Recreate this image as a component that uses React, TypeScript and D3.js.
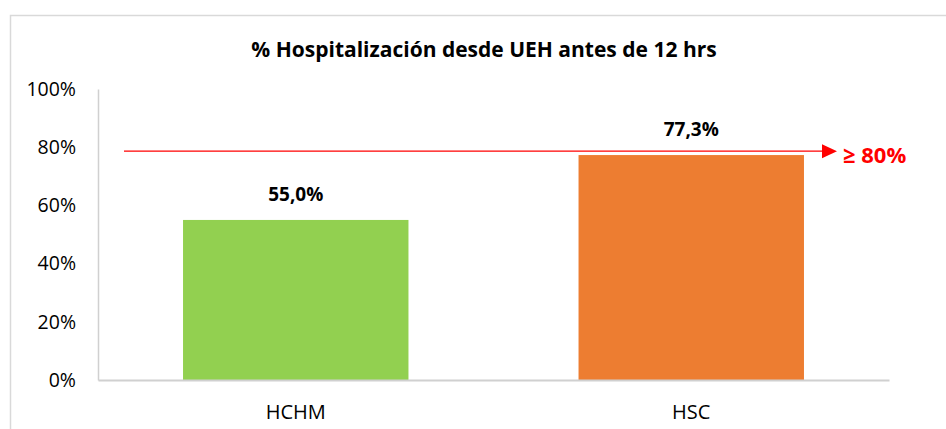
import React, { useEffect, useRef } from "react";
import * as d3 from "d3";

const categories = ["HCHM", "HSC"];
const values = [55.0, 77.3];
const colors = ["#92d050", "#ed7d31"];
const yTicks = [0, 20, 40, 60, 80, 100];
const target = 80;
const title = "% Hospitalización desde UEH antes de 12 hrs";

const App: React.FC = () => {
  const svgRef = useRef<SVGSVGElement | null>(null);

  useEffect(() => {
    const width = 946;
    const height = 429;
    const margin = { top: 89, right: 57, bottom: 49, left: 98 };
    const font = "'Open Sans', 'Noto Sans', sans-serif";

    const svg = d3.select(svgRef.current).attr("width", width).attr("height", height);
    svg.selectAll("*").remove();

    // chart border (cropped by the window)
    svg
      .append("rect")
      .attr("x", 10.5)
      .attr("y", 15.5)
      .attr("width", width)
      .attr("height", height)
      .attr("fill", "white")
      .attr("stroke", "#d9d9d9")
      .attr("stroke-width", 1.5);

    const x = d3
      .scaleBand<string>()
      .domain(categories)
      .range([margin.left, width - margin.right])
      .paddingInner(0.43)
      .paddingOuter(0.215);

    const y = d3
      .scaleLinear()
      .domain([0, 100])
      .range([height - margin.bottom, margin.top]);

    // bars
    svg
      .append("g")
      .selectAll("rect")
      .data(values)
      .enter()
      .append("rect")
      .attr("x", (_, i) => x(categories[i])!)
      .attr("y", (d) => y(d))
      .attr("width", x.bandwidth())
      .attr("height", (d) => y(0) - y(d))
      .attr("fill", (_, i) => colors[i]);

    // y axis
    const yAxis = svg
      .append("g")
      .attr("transform", `translate(${margin.left},0)`)
      .call(
        d3
          .axisLeft(y)
          .tickValues(yTicks)
          .tickSize(0)
          .tickPadding(22)
          .tickFormat((d) => `${d}%`)
      );
    yAxis.select(".domain").attr("stroke", "#d0d0d0").attr("stroke-width", 1.5);
    yAxis
      .selectAll("text")
      .style("font-family", font)
      .style("font-size", "19.5px")
      .style("fill", "#000");

    // x axis
    const xAxis = svg
      .append("g")
      .attr("transform", `translate(0,${y(0)})`)
      .call(d3.axisBottom(x).tickSize(0).tickPadding(25).tickSizeOuter(0));
    xAxis.select(".domain").attr("stroke", "#d0d0d0").attr("stroke-width", 2);
    xAxis
      .selectAll("text")
      .style("font-family", font)
      .style("font-size", "20px")
      .style("fill", "#000");

    // value labels
    svg
      .append("g")
      .selectAll("text")
      .data(values)
      .enter()
      .append("text")
      .attr("x", (_, i) => x(categories[i])! + x.bandwidth() / 2)
      .attr("y", (d) => y(d) - 19)
      .attr("text-anchor", "middle")
      .style("font-family", font)
      .style("font-size", "19px")
      .style("font-weight", "bold")
      .style("fill", "#000")
      .text((d) => `${d.toFixed(1).replace(".", ",")}%`);

    // target arrow
    const ty = y(target) + 4;
    const x0 = 124;
    const tip = 837;
    svg
      .append("line")
      .attr("x1", x0)
      .attr("x2", tip - 14)
      .attr("y1", ty)
      .attr("y2", ty)
      .attr("stroke", "#ff0000")
      .attr("stroke-width", 1.2);
    svg
      .append("path")
      .attr("d", `M${tip - 15},${ty - 7}L${tip},${ty}L${tip - 15},${ty + 7}Z`)
      .attr("fill", "#ff0000");
    svg
      .append("text")
      .attr("x", 843)
      .attr("y", ty + 12)
      .style("font-family", font)
      .style("font-size", "22px")
      .style("font-weight", "bold")
      .style("fill", "#ff0000")
      .text(`≥ ${target}%`);

    // title
    svg
      .append("text")
      .attr("x", 484)
      .attr("y", 57)
      .attr("text-anchor", "middle")
      .style("font-family", font)
      .style("font-size", "21px")
      .style("font-weight", "bold")
      .style("fill", "#000")
      .text(title);
  }, []);

  return <svg ref={svgRef} style={{ position: "absolute", left: 0, top: 0 }}></svg>;
};

export default App;
